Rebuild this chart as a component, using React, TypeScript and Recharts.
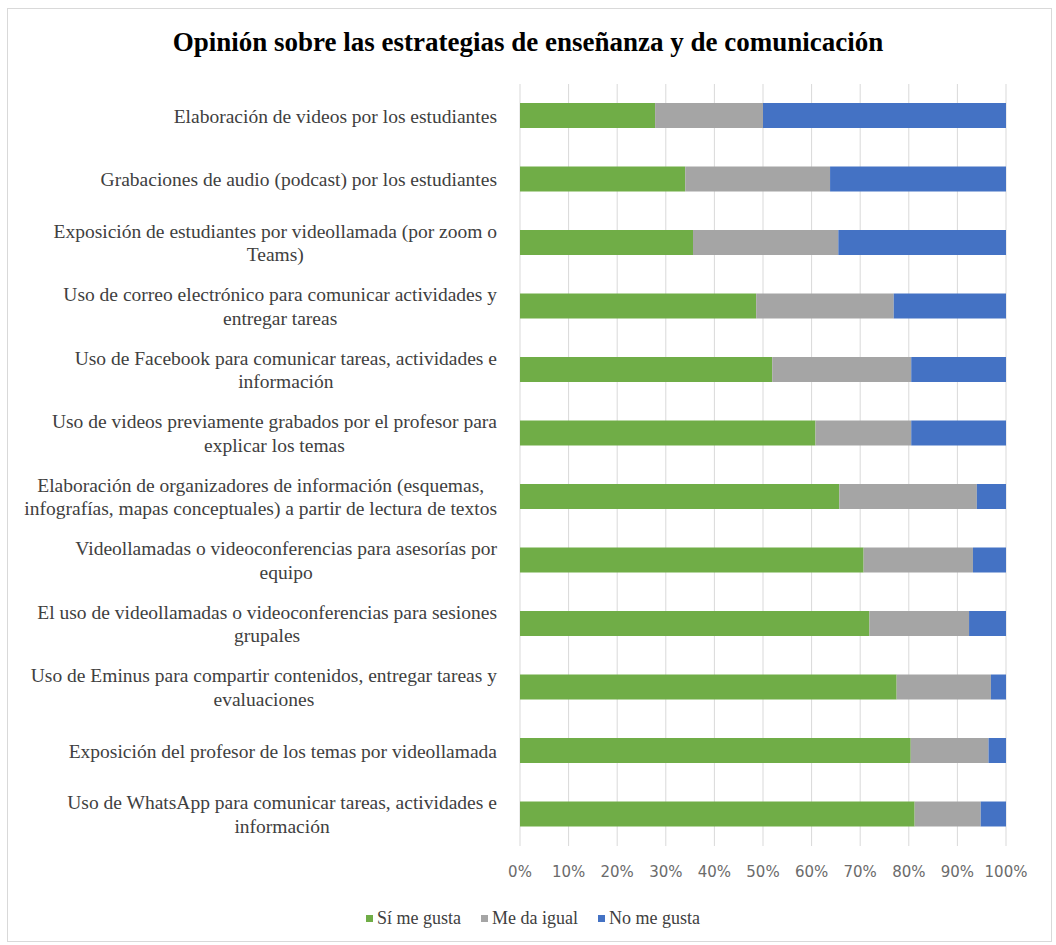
import { BarChart, Bar, XAxis, YAxis, CartesianGrid, Legend } from "recharts";

// categories, top to bottom (line breaks as wrapped in the original)
const strategies = [
  "Elaboración de videos por los estudiantes",
  "Grabaciones de audio (podcast) por los estudiantes",
  "Exposición de estudiantes por videollamada (por zoom o\nTeams)",
  "Uso de correo electrónico para comunicar actividades y\nentregar tareas",
  "Uso de Facebook para comunicar tareas, actividades e\ninformación",
  "Uso de videos previamente grabados por el profesor para\nexplicar los temas",
  "Elaboración de organizadores de información (esquemas,\ninfografías, mapas conceptuales) a partir de lectura de textos",
  "Videollamadas o videoconferencias para asesorías por\nequipo",
  "El uso de videollamadas o videoconferencias para sesiones\ngrupales",
  "Uso de Eminus para compartir contenidos, entregar tareas y\nevaluaciones",
  "Exposición del profesor de los temas por videollamada",
  "Uso de WhatsApp para comunicar tareas, actividades e\ninformación",
];

// percentages
const siMeGusta = [27.8, 34.0, 35.6, 48.6, 51.9, 60.8, 65.7, 70.7, 71.9, 77.5, 80.4, 81.2];
const meDaIgual = [22.2, 29.8, 29.9, 28.3, 28.6, 19.7, 28.3, 22.5, 20.5, 19.4, 16.0, 13.6];
const noMeGusta = [50.0, 36.2, 34.5, 23.1, 19.5, 19.5, 6.0, 6.8, 7.6, 3.1, 3.6, 5.2];

const seriesNames = ["Sí me gusta", "Me da igual", "No me gusta"];
const pctTicks = [0, 10, 20, 30, 40, 50, 60, 70, 80, 90, 100];

const data = strategies.map((name, i) => ({
  name,
  si: siMeGusta[i],
  igual: meDaIgual[i],
  no: noMeGusta[i],
}));

const GREEN = "#70ad47";
const GRAY = "#a5a5a5";
const BLUE = "#4472c4";
const SERIF = '"Liberation Serif", "Times New Roman", serif';
const LABEL_SIZE = 19.5;
const LINE_H = 23.4;

let ctx: CanvasRenderingContext2D | null = null;
function textWidth(s: string) {
  if (!ctx) ctx = document.createElement("canvas").getContext("2d");
  if (!ctx) return s.length * 8;
  ctx.font = `${LABEL_SIZE}px ${SERIF}`;
  return ctx.measureText(s).width;
}

// excel-style wrapped label: block right-aligned, lines centred within it
function CategoryTick({ x, y, payload }: any) {
  const lines = String(payload.value).split("\n");
  const widest = Math.max(...lines.map(textWidth));
  const cx = x - widest / 2;
  const y0 = y - ((lines.length - 1) * LINE_H) / 2;
  return (
    <text textAnchor="middle" fill="#404040" fontFamily={SERIF} fontSize={LABEL_SIZE}>
      {lines.map((l, i) => (
        <tspan key={i} x={cx} y={y0 + i * LINE_H} dy="0.35em">
          {l}
        </tspan>
      ))}
    </text>
  );
}

function LegendBox({ payload }: any) {
  // keep series order (legend sorts by name otherwise)
  const items = [...(payload || [])].sort(
    (a: any, b: any) => seriesNames.indexOf(a.value) - seriesNames.indexOf(b.value)
  );
  return (
    <div style={{ height: 40, display: "flex", justifyContent: "center", alignItems: "center", gap: 20, paddingLeft: 60 }}>
      {items.map((p: any) => (
        <span key={p.value} style={{ display: "flex", alignItems: "center", fontFamily: SERIF, fontSize: 18, color: "#404040" }}>
          <span style={{ width: 7, height: 7, background: p.color, marginRight: 4, display: "inline-block" }} />
          {p.value}
        </span>
      ))}
    </div>
  );
}

export default function App() {
  return (
    <div style={{ position: "absolute", left: 0, top: 0, width: 1056, height: 945, background: "#fff" }}>
      <div style={{ position: "absolute", left: 7, top: 8, width: 1043, height: 932, border: "1px solid #d9d9d9" }} />
      <div
        style={{
          position: "absolute",
          left: 0,
          top: 26,
          width: 1056,
          textAlign: "center",
          fontFamily: SERIF,
          fontWeight: 700,
          fontSize: 27,
          lineHeight: "32px",
          color: "#000",
        }}
      >
        Opinión sobre las estrategias de enseñanza y de comunicación
      </div>
      <div style={{ position: "absolute", left: 0, top: 0 }}>
        <BarChart
          width={1056}
          height={945}
          data={data}
          layout="vertical"
          barSize={25}
          margin={{ top: 84, right: 50, bottom: 29, left: 0 }}
        >
          <CartesianGrid horizontal={false} stroke="#d9d9d9" />
          <XAxis
            type="number"
            domain={[0, 100]}
            ticks={pctTicks}
            tickFormatter={(v) => `${v}%`}
            axisLine={false}
            tickLine={false}
            tickSize={0}
            tickMargin={20}
            height={30}
            interval={0}
            tick={{ fill: "#6b6b6b", fontSize: 15, fontFamily: '"DejaVu Sans", sans-serif' }}
          />
          <YAxis
            type="category"
            dataKey="name"
            width={520}
            axisLine={false}
            tickLine={false}
            tickSize={0}
            tickMargin={23}
            interval={0}
            tick={<CategoryTick />}
          />
          <Legend verticalAlign="bottom" height={40} content={<LegendBox />} wrapperStyle={{ bottom: 7 }} />
          <Bar dataKey="si" name={seriesNames[0]} stackId="a" fill={GREEN} isAnimationActive={false} />
          <Bar dataKey="igual" name={seriesNames[1]} stackId="a" fill={GRAY} isAnimationActive={false} />
          <Bar dataKey="no" name={seriesNames[2]} stackId="a" fill={BLUE} isAnimationActive={false} />
        </BarChart>
      </div>
    </div>
  );
}
